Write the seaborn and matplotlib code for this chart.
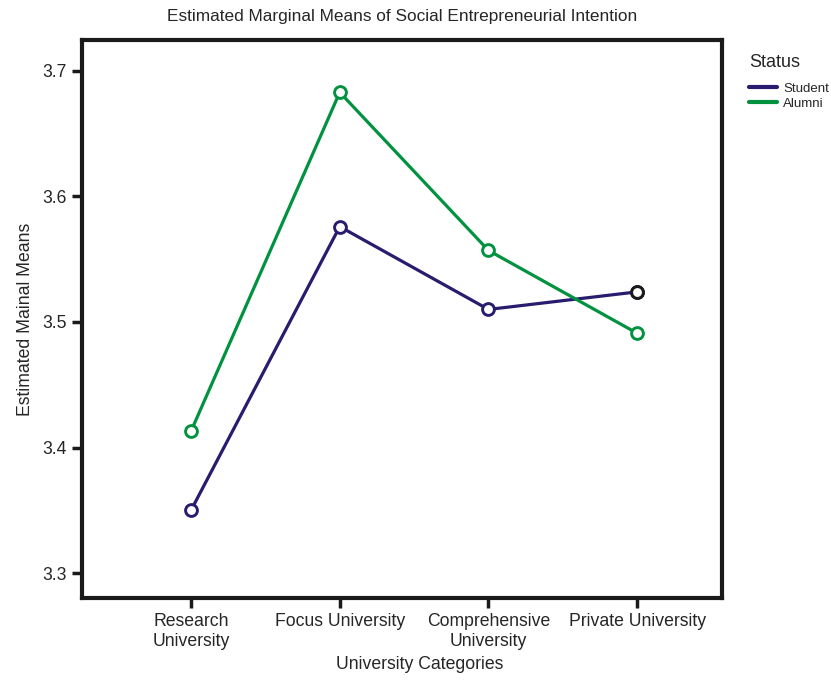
import pandas as pd
import numpy as np
import seaborn as sns
import matplotlib.pyplot as plt
from matplotlib.lines import Line2D

categories = ["Research\nUniversity", "Focus University", "Comprehensive\nUniversity", "Private University"]
student = [3.350, 3.576, 3.510, 3.524]
alumni = [3.413, 3.683, 3.557, 3.491]
status = ["Student", "Alumni"]
colors = {"Student": "#281c6e", "Alumni": "#00923f"}
y_ticks = [3.3, 3.4, 3.5, 3.6, 3.7]

df = pd.DataFrame({
    "University": categories * 2,
    "Mean": student + alumni,
    "Status": ["Student"] * 4 + ["Alumni"] * 4,
})

sns.set_style("white")
plt.rcParams["font.family"] = ["Liberation Sans", "DejaVu Sans"]

fig = plt.figure(figsize=(8.31, 6.81), dpi=100)
ax = fig.add_axes([0.0987, 0.1219, 0.7701, 0.8194])

sns.lineplot(data=df, x="University", y="Mean", hue="Status", palette=colors,
             sort=False, marker="o", markersize=8.5, linewidth=2.3, legend=False, ax=ax)

# open circles in line colour (seaborn gives them a white edge by default)
for ln in ax.lines:
    ln.set_markerfacecolor("white")
    ln.set_markeredgecolor(ln.get_color())
    ln.set_markeredgewidth(2.1)

# last student point has a black outline in the original
last = df[(df["Status"] == "Student") & (df["University"] == categories[-1])]
sns.scatterplot(data=last, x="University", y="Mean", s=72, color="white",
                edgecolor="#1a1a1a", linewidth=2.1, zorder=5, legend=False, ax=ax)

ax.set_xlim(-0.733, 3.57)
ax.set_ylim(3.2801, 3.7247)
ax.set_yticks(y_ticks)
ax.set_yticklabels([f"{v:.1f}" for v in y_ticks])
ax.tick_params(axis="both", direction="out", length=7, width=2.5, color="#1a1a1a",
               labelsize=12.7, pad=4, left=True, bottom=True)
for s in ax.spines.values():
    s.set_linewidth(3)
    s.set_color("#1a1a1a")

ax.set_xlabel("University Categories", fontsize=12.7)
ax.xaxis.set_label_coords(0.528, -0.104)
ax.set_ylabel("Estimated Mainal Means", fontsize=12.7, labelpad=6)
ax.set_title("Estimated Marginal Means of Social Entrepreneurial Intention", fontsize=12.4, pad=14)

handles = [Line2D([], [], color=colors[s], linewidth=3) for s in status]
leg = ax.legend(handles, status, title="Status", loc="upper left",
                bbox_to_anchor=(1.043, 0.975), frameon=False, fontsize=9.5,
                title_fontsize=13, handlelength=2.1, handletextpad=0.45,
                labelspacing=0.2, borderaxespad=0, borderpad=0)
leg._legend_box.align = "left"
leg._legend_box.sep = 8.5

plt.savefig("out.png", dpi=100)
plt.close()
